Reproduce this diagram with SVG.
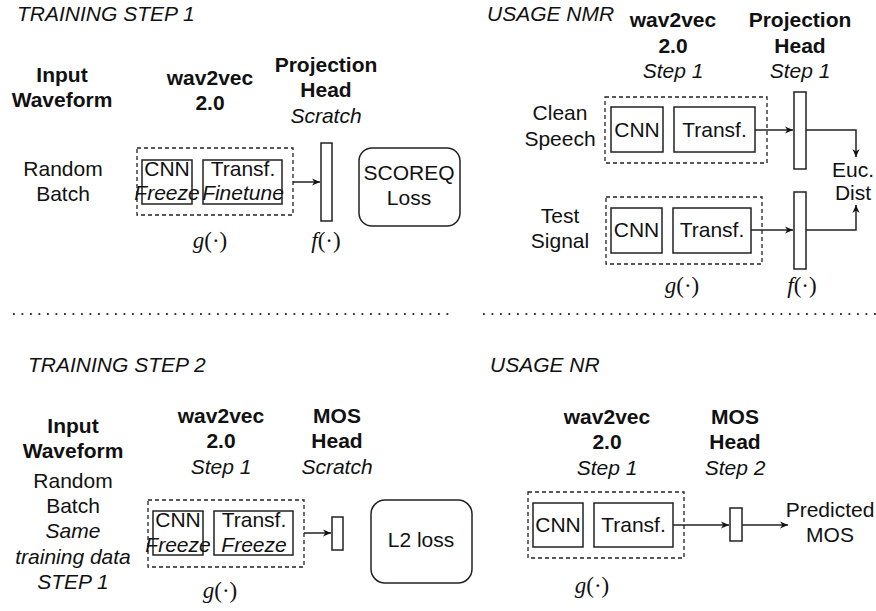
<svg xmlns="http://www.w3.org/2000/svg" width="876" height="611" viewBox="0 0 876 611">
<style>
text{font-family:"Liberation Sans",Arial,sans-serif;font-size:21px;fill:#111;text-anchor:middle}
.b{font-weight:bold}
.i{font-style:italic}
.s{text-anchor:start}
.m{font-family:"Liberation Serif","Times New Roman",serif;font-size:23px}
.m tspan.v{font-style:italic}
.box{fill:#fff;stroke:#222;stroke-width:1.5}
.open{fill:none}
.grp{fill:none;stroke:#222;stroke-width:1.3;stroke-dasharray:4 3}
.ln{fill:none;stroke:#222;stroke-width:1.5}
.dot{fill:none;stroke:#333;stroke-width:1.8;stroke-dasharray:1.8 6.7}
</style>
<defs>
<marker id="ah" viewBox="0 0 10 10" refX="10" refY="5" markerWidth="8" markerHeight="8" orient="auto" markerUnits="userSpaceOnUse">
<path d="M0,0.5 L10,5 L0,9.5 L3,5 z" fill="#111"/>
</marker>
</defs>

<g id="titles">
<text class="i s" x="17" y="21">TRAINING STEP 1</text>
<text class="i s" x="487" y="21">USAGE NMR</text>
<text class="i s" x="28" y="372">TRAINING STEP 2</text>
<text class="i s" x="490" y="372">USAGE NR</text>
</g>

<g id="separators">
<line class="dot" x1="13" y1="314" x2="453" y2="314"/>
<line class="dot" x1="483" y1="314" x2="876" y2="314"/>
</g>

<!-- TRAINING STEP 1 -->
<g id="ts1-input">
<text class="b" x="62" y="82">Input</text>
<text class="b" x="62" y="107">Waveform</text>
<text x="63" y="176">Random</text>
<text x="63" y="201">Batch</text>
</g>
<g id="ts1-w2v-label">
<text class="b" x="210" y="85">wav2vec</text>
<text class="b" x="210" y="110">2.0</text>
</g>
<g id="ts1-proj-label">
<text class="b" x="326" y="72">Projection</text>
<text class="b" x="326" y="97">Head</text>
<text class="i" x="326" y="123">Scratch</text>
</g>
<g id="ts1-w2v">
<rect class="grp" x="137" y="148" width="156" height="67"/>
</g>
<g id="ts1-cnn">
<rect class="box open" x="142" y="160" width="50" height="44"/>
<text x="167" y="176">CNN</text>
<text class="i" x="167" y="200">Freeze</text>
</g>
<g id="ts1-transf">
<rect class="box open" x="203" y="160" width="79" height="44"/>
<text x="243" y="176">Transf.</text>
<text class="i" x="243" y="200">Finetune</text>
</g>
<g id="ts1-proj">
<rect class="box" x="321" y="143" width="11" height="78"/>
</g>
<g id="ts1-loss">
<rect class="box" x="359" y="148" width="101" height="78" rx="13"/>
<text x="409" y="180">SCOREQ</text>
<text x="409" y="205">Loss</text>
</g>
<g id="ts1-math">
<text class="m" x="210" y="248"><tspan class="v">g</tspan>(·)</text>
<text class="m" x="326" y="248"><tspan class="v">f</tspan>(·)</text>
</g>

<!-- USAGE NMR -->
<g id="nmr-w2v-label">
<text class="b" x="673" y="27">wav2vec</text>
<text class="b" x="673" y="53">2.0</text>
<text class="i" x="673" y="78">Step 1</text>
</g>
<g id="nmr-proj-label">
<text class="b" x="800" y="27">Projection</text>
<text class="b" x="800" y="53">Head</text>
<text class="i" x="800" y="78">Step 1</text>
</g>
<g id="nmr-clean">
<text x="560" y="120">Clean</text>
<text x="560" y="146">Speech</text>
</g>
<g id="nmr-w2v-1">
<rect class="grp" x="605" y="97" width="162" height="66"/>
</g>
<g id="nmr-cnn-1">
<rect class="box" x="611" y="107" width="52" height="45"/>
<text x="637" y="137">CNN</text>
</g>
<g id="nmr-transf-1">
<rect class="box" x="674" y="107" width="81" height="45"/>
<text x="714.5" y="137">Transf.</text>
</g>
<g id="nmr-proj-1">
<rect class="box" x="794" y="92" width="12" height="77"/>
</g>
<g id="nmr-test">
<text x="560" y="223">Test</text>
<text x="560" y="248">Signal</text>
</g>
<g id="nmr-w2v-2">
<rect class="grp" x="606" y="197" width="156" height="67"/>
</g>
<g id="nmr-cnn-2">
<rect class="box" x="611" y="208" width="51" height="45"/>
<text x="636.5" y="237">CNN</text>
</g>
<g id="nmr-transf-2">
<rect class="box" x="673" y="208" width="78" height="45"/>
<text x="712" y="237">Transf.</text>
</g>
<g id="nmr-proj-2">
<rect class="box" x="794" y="192" width="12" height="77"/>
</g>
<g id="nmr-euc">
<text x="853" y="177">Euc.</text>
<text x="853" y="200">Dist</text>
</g>
<g id="nmr-math">
<text class="m" x="682" y="293"><tspan class="v">g</tspan>(·)</text>
<text class="m" x="802" y="293"><tspan class="v">f</tspan>(·)</text>
</g>

<!-- TRAINING STEP 2 -->
<g id="ts2-input">
<text class="b" x="73" y="433">Input</text>
<text class="b" x="73" y="458">Waveform</text>
<text x="73" y="488">Random</text>
<text x="73" y="513">Batch</text>
<text class="i" x="73" y="538">Same</text>
<text class="i" x="73" y="564">training data</text>
<text class="i" x="73" y="589">STEP 1</text>
</g>
<g id="ts2-w2v-label">
<text class="b" x="221" y="423">wav2vec</text>
<text class="b" x="221" y="448">2.0</text>
<text class="i" x="221" y="474">Step 1</text>
</g>
<g id="ts2-mos-label">
<text class="b" x="337" y="423">MOS</text>
<text class="b" x="337" y="448">Head</text>
<text class="i" x="337" y="474">Scratch</text>
</g>
<g id="ts2-w2v">
<rect class="grp" x="148" y="500" width="156" height="67"/>
</g>
<g id="ts2-cnn">
<rect class="box open" x="153" y="511" width="50" height="44"/>
<text x="178" y="527">CNN</text>
<text class="i" x="178" y="552">Freeze</text>
</g>
<g id="ts2-transf">
<rect class="box open" x="214" y="511" width="79" height="44"/>
<text x="254" y="527">Transf.</text>
<text class="i" x="254" y="552">Freeze</text>
</g>
<g id="ts2-mos">
<rect class="box" x="332" y="517" width="11" height="33"/>
</g>
<g id="ts2-loss">
<rect class="box" x="371" y="500" width="101" height="83" rx="14"/>
<text x="421" y="547">L2 loss</text>
</g>
<g id="ts2-math">
<text class="m" x="220" y="598"><tspan class="v">g</tspan>(·)</text>
</g>

<!-- USAGE NR -->
<g id="nr-w2v-label">
<text class="b" x="607" y="424">wav2vec</text>
<text class="b" x="607" y="449">2.0</text>
<text class="i" x="607" y="475">Step 1</text>
</g>
<g id="nr-mos-label">
<text class="b" x="735" y="424">MOS</text>
<text class="b" x="735" y="449">Head</text>
<text class="i" x="735" y="475">Step 2</text>
</g>
<g id="nr-w2v">
<rect class="grp" x="528" y="492" width="156" height="66"/>
</g>
<g id="nr-cnn">
<rect class="box" x="533" y="503" width="50" height="44"/>
<text x="558" y="532">CNN</text>
</g>
<g id="nr-transf">
<rect class="box" x="594" y="503" width="79" height="44"/>
<text x="633.5" y="532">Transf.</text>
</g>
<g id="nr-mos">
<rect class="box" x="730" y="508" width="12" height="33"/>
</g>
<g id="nr-out">
<text x="830" y="517">Predicted</text>
<text x="830" y="542">MOS</text>
</g>
<g id="nr-math">
<text class="m" x="592" y="593"><tspan class="v">g</tspan>(·)</text>
</g>

<g id="connectors">
<path class="ln" d="M293,182 H320" marker-end="url(#ah)"/>
<path class="ln" d="M755,130 H793" marker-end="url(#ah)"/>
<path class="ln" d="M806,130 H856 V157" marker-end="url(#ah)"/>
<path class="ln" d="M751,230 H793" marker-end="url(#ah)"/>
<path class="ln" d="M806,230 H856 V205" marker-end="url(#ah)"/>
<path class="ln" d="M304,533 H331" marker-end="url(#ah)"/>
<path class="ln" d="M673,525 H729" marker-end="url(#ah)"/>
<path class="ln" d="M742,525 H788" marker-end="url(#ah)"/>
</g>
</svg>
